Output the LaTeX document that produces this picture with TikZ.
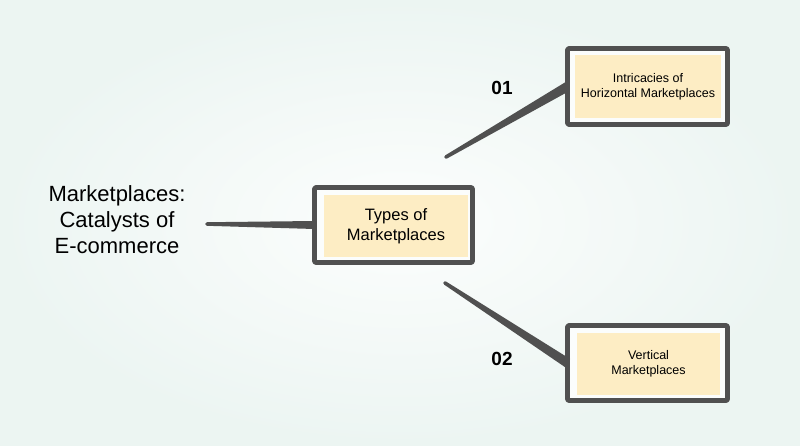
\documentclass[tikz,border=0pt]{standalone}
\usepackage{fontspec}
\setmainfont{Liberation Sans}
\usetikzlibrary{calc}
\definecolor{bgmint}{RGB}{236,245,242}
\definecolor{cream}{RGB}{253,237,196}
\definecolor{inkgray}{RGB}{80,80,80}

% tapered stroke: thin at #1, wide at #2
\newcommand\taper[4]{%
  \fill[wire] ($(#1)!#3!90:(#2)$) -- ($(#2)!#4!-90:(#1)$) -- ($(#2)!#4!90:(#1)$)
    -- ($(#1)!#3!-90:(#2)$) -- cycle;
  \fill[wire] (#1) circle (#3);}

\begin{document}
\begin{tikzpicture}[x=1pt,y=-1pt,line join=round,
  frame/.style={draw=inkgray,line width=4.6pt,fill=white!80!bgmint,inner sep=0pt,outer sep=0pt,rounded corners=1pt},
  card/.style={fill=cream,inner sep=0pt,align=center,font=\fontsize{12.5}{15}\selectfont},
  wire/.style={fill=inkgray}]
\useasboundingbox (0,0) rectangle (800,445);
\shade[inner color=white!85!bgmint,outer color=bgmint] (0,0) rectangle (800,445);

% boxes
\node[frame,minimum width=158,minimum height=75] (typesbox) at (393.5,225) {};
\node[frame,minimum width=160,minimum height=76] (horizbox) at (647.5,86.5) {};
\node[frame,minimum width=160,minimum height=75] (vertbox) at (647.5,363) {};

% connectors
\coordinate (leftend) at (207,224);
\coordinate (upend) at (446,157);
\coordinate (downend) at (445,283);
\taper{leftend}{typesbox.west}{1.8pt}{4pt}
\taper{upend}{horizbox.west}{1.8pt}{4.8pt}
\taper{downend}{vertbox.west}{1.8pt}{4.8pt}

\node[card,minimum width=144,minimum height=62,font=\fontsize{16.5}{20}\selectfont] (types) at (396,226) {Types of\\Marketplaces};
\node[card,minimum width=146,minimum height=63] (horiz) at (648,86.5) {Intricacies of\\Horizontal Marketplaces};
\node[card,minimum width=143,minimum height=62] (vert) at (648.5,364) {Vertical\\Marketplaces};

\node[align=center,font=\fontsize{22}{26}\selectfont] (title) at (117,220) {Marketplaces:\\Catalysts of\\E-commerce};
\node[font=\fontsize{19}{22}\selectfont\bfseries] (one) at (502,87.5) {01};
\node[font=\fontsize{19}{22}\selectfont\bfseries] (two) at (502,358.5) {02};
\end{tikzpicture}
\end{document}
